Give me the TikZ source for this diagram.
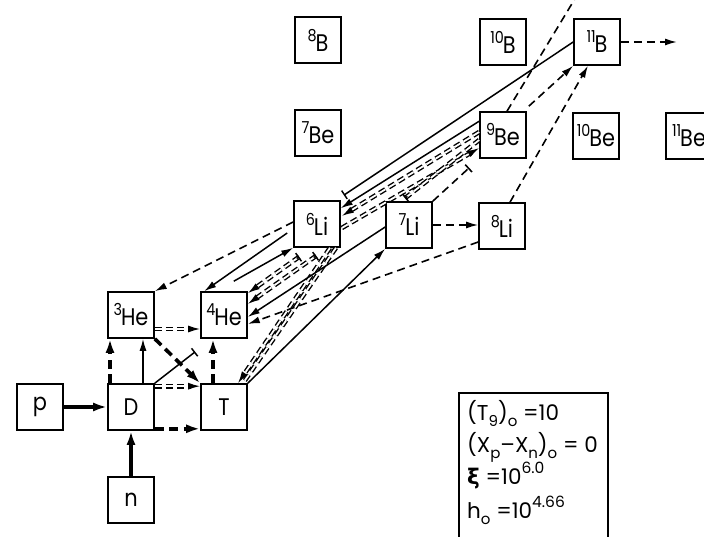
\documentclass[tikz,border=0pt]{standalone}
\usepackage{fontspec}
\setmainfont{Poppins}
\newfontfamily\boxfont{Poppins}[FakeStretch=0.87]
\newfontfamily\xifont{DejaVu Sans}
\usetikzlibrary{arrows.meta,calc}
\newcommand\nuc[2]{\boxfont\raisebox{10pt}{\fontsize{16.5}{16.5}\selectfont #1}\kern-1pt{\fontsize{24}{24}\selectfont #2}}
\newcommand\bt[1]{{\boxfont\fontsize{24}{24}\selectfont #1}}
\newcommand\lsub[1]{\raisebox{-6pt}{\fontsize{15}{15}\selectfont #1}}
\newcommand\lsup[1]{\raisebox{11pt}{\fontsize{15.5}{15.5}\selectfont #1}}
\newcommand\lfont{\fontsize{21.5}{21.5}\selectfont}
\newcommand\ddto[2]{\draw[ddl,shorten >=9pt] (#1) -- (#2); \draw[thinl,ar] ($(#2)!10pt!(#1)$) -- (#2);}
\newcommand\ddbar[2]{\draw[ddl] (#1) -- (#2); \draw[thinl,br] (#1) -- ($(#1)!3pt!(#2)$);}
\newcommand\ddbarto[2]{\draw[ddl,shorten >=9pt] (#1) -- (#2); \draw[thinl,ar] ($(#2)!10pt!(#1)$) -- (#2); \draw[thinl,br] (#1) -- ($(#1)!3pt!(#2)$);}
\begin{document}
\begin{tikzpicture}[x=1pt,y=-1pt,
  box/.style={draw,line width=1.6pt,minimum width=46pt,minimum height=46pt,inner sep=0pt},
  thinl/.style={line width=1.5pt},
  thkl/.style={line width=3.6pt},
  dsh/.style={line width=1.6pt,dash pattern=on 8pt off 5pt},
  thkdsh/.style={line width=3.6pt,dash pattern=on 9pt off 5.5pt},
  ddl/.style={draw,line width=1.4pt,double=white,double distance=1.8pt,dash pattern=on 7pt off 4pt},
  ar/.style={-{Latex[length=12pt,width=7pt]}},
  arB/.style={-{Latex[length=14pt,width=9pt]}},
  br/.style={{Bar[width=10pt]}-},
  lt/.style={anchor=base west,inner sep=0pt}]
\useasboundingbox (0,0) rectangle (704,537);
\clip (0,0) rectangle (704,537);
% nodes
\node[box] (p) at (40,407) {\bt{p}};
\node[box] (D) at (131,407) {\bt{D}};
\node[box] (T) at (224,407) {\bt{T}};
\node[box] (n) at (131,500) {\bt{n}};
\node[box] (He3) at (131,315) {\nuc{3}{He}};
\node[box] (He4) at (224,315) {\nuc{4}{He}};
\node[box] (Li6) at (317,224) {\nuc{6}{Li}};
\node[box] (Li7) at (409,225) {\nuc{7}{Li}};
\node[box] (Li8) at (502,226) {\nuc{8}{Li}};
\node[box] (Be7) at (318,133) {\nuc{7}{Be}};
\node[box] (Be9) at (503,135) {\nuc{9}{Be}};
\node[box] (Be10) at (596,136) {\nuc{10}{Be}};
\node[box] (Be11) at (689,136) {\nuc{11}{Be}};
\node[box] (B8) at (318,40) {\nuc{8}{B}};
\node[box] (B10) at (503,42) {\nuc{10}{B}};
\node[box] (B11) at (597,42) {\nuc{11}{B}};
% legend
\node[draw,line width=1.6pt,minimum width=149pt,minimum height=165pt,anchor=north west,inner sep=0pt] (leg) at (458,392) {};
\node[lt] (l1) at (467,420) {\lfont(T\lsub{9})\lsub{o} =10};
\node[lt] (l2) at (467,452) {\lfont(X\lsub{p}–X\lsub{n})\lsub{o} = 0};
\node[lt] (l3) at (467,484) {\lfont{\xifont\bfseries ξ} =10\lsup{6.0}};
\node[lt] (l4) at (467,518) {\lfont h\lsub{o} =10\lsup{4.66}};
% coordinates
\coordinate (c3a) at ($(D.north)+(-21,0)$); \coordinate (c3b) at ($(He3.south)+(-21,0)$);
\coordinate (c4a) at ($(D.north)+(12,0)$); \coordinate (c4b) at ($(He3.south)+(12,0)$);
\coordinate (c5b) at ($(He4.south west)+(-5,13)$);
\coordinate (c7a) at ($(He3.east)+(0,14)$); \coordinate (c7b) at ($(He4.west)+(0,14)$);
\coordinate (c8a) at ($(D.north east)+(0,3)$); \coordinate (c8b) at ($(T.north west)+(0,3)$);
\coordinate (c9a) at ($(D.south east)+(0,-2)$); \coordinate (c9b) at ($(T.south west)+(0,-2)$);
\coordinate (c10a) at ($(T.north)+(-11,0)$); \coordinate (c10b) at ($(He4.south)+(-11,0)$);
\coordinate (c12a) at ($(Li6.south)+(13,0)$); \coordinate (c12b) at ($(T.north)+(14,0)$);
\coordinate (c12c) at ($(Li6.south)+(19,0)$); \coordinate (c12d) at ($(T.north)+(19,0)$);
\coordinate (c13a) at ($(Li7.west)+(0,2)$); \coordinate (c13b) at ($(He4.east)+(0,2)$);
\coordinate (c14a) at ($(Li8.west)+(0,16)$); \coordinate (c14b) at ($(He4.east)+(0,9)$);
\coordinate (c15a) at ($(Li6.west)+(0,-2)$);
\coordinate (c16a) at ($(Li6.west)+(-6,9)$); \coordinate (c16b) at ($(He4.north west)+(4,0)$);
\coordinate (c17a) at ($(He4.north east)+(-14,-10)$);
\coordinate (c18a) at ($(Li6.south west)+(6,9)$); \coordinate (c18b) at ($(He4.north east)+(0,2)$);
\coordinate (c19a) at ($(Li6.south west)+(23,8)$); \coordinate (c19b) at ($(He4.east)+(0,-11)$);
\coordinate (c20a) at ($(Be9.north west)+(0,10)$); \coordinate (c20b) at ($(Li6.north east)+(0,8)$);
\coordinate (c21b) at ($(Li6.north east)+(3,-5)$);
\coordinate (c22a) at ($(Be9.west)+(0,-3)$); \coordinate (c22b) at ($(Li6.east)+(1,-8)$);
\coordinate (c23a) at ($(Li6.east)+(1,4)$); \coordinate (c23b) at ($(Be9.west)+(0,13)$);
\coordinate (c24a) at ($(Li7.north)+(-4,-3)$); \coordinate (c24b) at ($(Be9.west)+(0,5)$);
\coordinate (c25b) at ($(Be9.south west)+(-10,9)$);
\coordinate (c26a) at ($(Be9.north)+(4,0)$); \coordinate (top) at (576,-3);
\coordinate (c27a) at ($(Be9.north east)+(2,-5)$);
\coordinate (c28a) at ($(Li8.north)+(8,0)$); \coordinate (c28b) at ($(B11.south)+(-9,0)$);
\coordinate (out) at (677,42);
% connectors
\draw[thkl,arB] (p.east) -- (D.west);
\draw[thkl,arB] (n.north) -- (D.south);
\draw[thkdsh,arB] (c3a) -- (c3b);
\draw[thinl,ar] (c4a) -- (c4b);
\draw[thinl,-{Bar[width=10pt]}] (D.north east) -- (c5b);
\draw[thkdsh,arB] (He3.south east) -- (T.north west);
\ddto{c7a}{c7b}
\ddto{c8a}{c8b}
\draw[thkdsh,arB] (c9a) -- (c9b);
\draw[thkdsh,arB] (c10a) -- (c10b);
\draw[thinl,ar] (T.north east) -- (Li7.south west);
\draw[ddl] (c12c) -- (c12d);
\ddto{c12a}{c12b}
\draw[thinl,ar] (c13a) -- (c13b);
\draw[dsh,ar] (c14a) -- (c14b);
\draw[dsh,ar] (c15a) -- (He3.north east);
\draw[thinl,br,ar] (c16a) -- (c16b);
\draw[thinl,br,ar] (c17a) -- (Li6.south west);
\ddbarto{c18a}{c18b}
\ddbarto{c19a}{c19b}
\draw[thinl,ar] (c20a) -- (c20b);
\draw[thinl,-{Bar[width=10pt]}] (B11.west) -- (c21b);
\ddto{c22a}{c22b}
\ddto{c23a}{c23b}
\ddbar{c24a}{c24b}
\draw[dsh,-{Bar[width=10pt]}] (Li7.north east) -- (c25b);
\draw[dsh] (c26a) -- (top);
\draw[dsh,br,ar] (c27a) -- (B11.south west);
\draw[dsh,ar] (c28a) -- (c28b);
\draw[dsh,ar] (B11.east) -- (out);
\draw[dsh,ar] (Li7.east) -- (Li7.east -| Li8.west);
\end{tikzpicture}
\end{document}
